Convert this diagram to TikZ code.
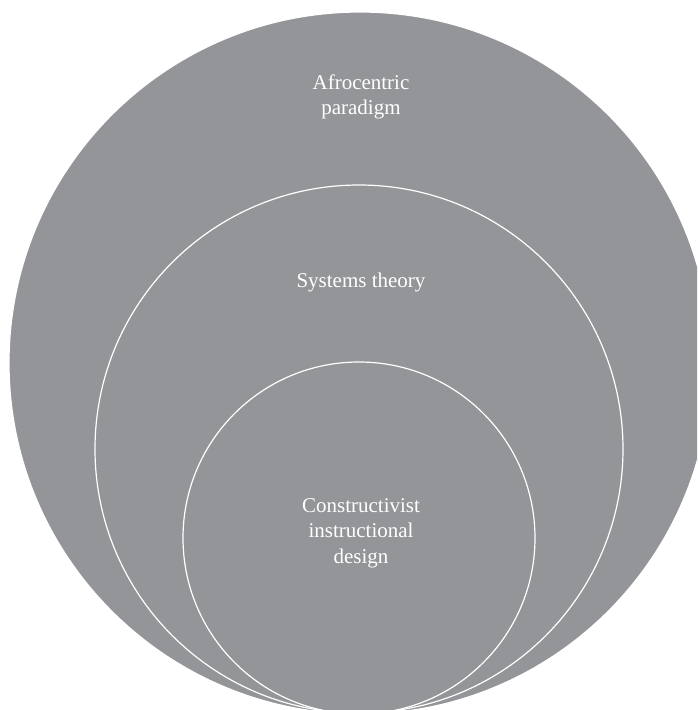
\documentclass[tikz,border=0pt]{standalone}
\usepackage{fontspec}
\setmainfont{Liberation Serif}
\usepackage{tikz}
\usetikzlibrary{positioning}
\definecolor{ringgray}{RGB}{147,149,152}

\begin{document}
\begin{tikzpicture}[x=1pt, y=-1pt,
        ring/.style = {draw = white, fill = ringgray, circle, inner sep = 0pt,
            line width = 1.2pt},
        ringtext/.style = {text = white, align = center,
            font = \fontsize{21}{25.5}\selectfont}]
        \useasboundingbox (0,0) rectangle (697,710);
        \clip (0,0) rectangle (697,710);
        \foreach \name/\cx/\cy/\r in {afro/360/363/351, sys/359/449/264,
                cons/359/538/176}
            \node[ring, minimum size = {2*\r*1pt}] (\name) at (\cx,\cy) {};
        \node[ringtext] (afro-t) at (361,97) {Afrocentric\\paradigm};
        \node[ringtext] (sys-t) at (361,282) {Systems theory};
        \node[ringtext] (cons-t) at (361,533)
            {Constructivist\\instructional\\design};
    \end{tikzpicture}
\end{document}
